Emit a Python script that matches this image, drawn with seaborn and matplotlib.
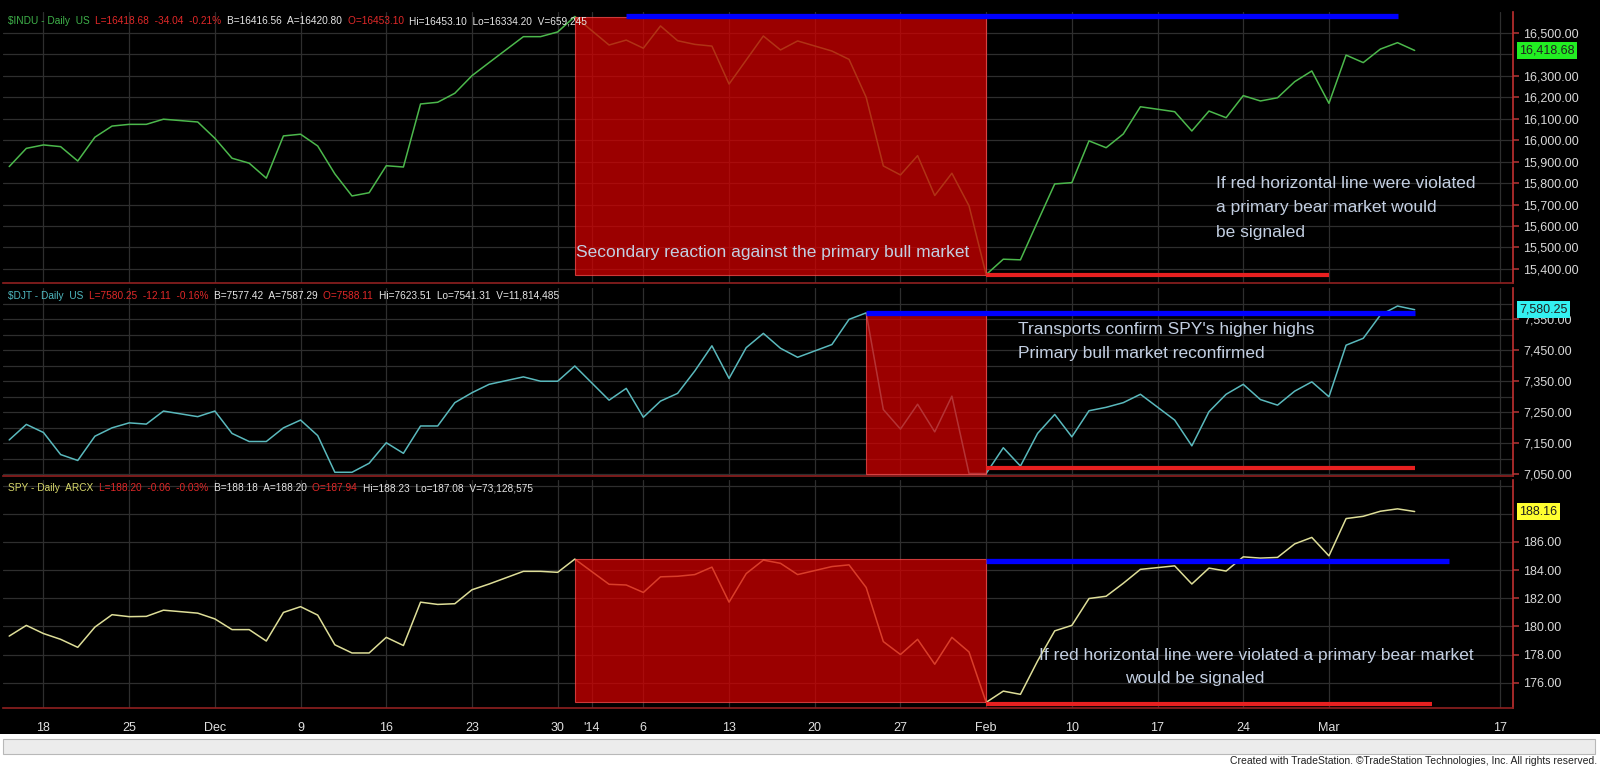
import numpy as np
import pandas as pd
import matplotlib
matplotlib.use("Agg")
import matplotlib.pyplot as plt
import matplotlib.transforms as mtrans
from matplotlib.patches import Rectangle
import seaborn as sns

# ---------------- data ----------------
# one slot per weekday from Nov 14 2013; market holidays are empty (None)
indu = [15877, 15962, 15978, 15970, 15903, 16014, 16066, 16074, 16074, 16098,
        None, 16085, 16009, 15916, 15893, 15823, 16020, 16028, 15973, 15843,
        15740, 15755, 15881, 15875, 16169, 16177, 16219, 16301, 16362, None,
        16483, 16483, 16505, 16577, None, 16444, 16467, 16429, 16533, 16464,
        16447, 16439, 16262, 16374, 16486, 16421, 16463, None, 16416, 16377,
        16200, 15880, 15838, 15928, 15742, 15846, 15694, 15373, 15445, 15442,
        15620, 15796, 15802, 15997, 15965, 16029, 16156, None, 16133, 16043,
        16136, 16105, 16208, 16183, 16198, 16273, 16323, 16172, 16397, 16362,
        16425, 16455, 16418.68]
djt = [7161, 7211, 7185, 7114, 7095, 7173, 7200, 7216, 7212, 7254,
       None, 7236, 7254, 7182, 7156, 7156, 7200, 7225, 7175, 7057,
       7057, 7086, 7152, 7118, 7206, 7206, 7281, 7313, 7340, None,
       7364, 7350, 7350, 7399, None, 7289, 7327, 7234, 7286, 7311,
       7383, 7464, 7359, 7458, 7504, 7456, 7427, None, 7468, 7549,
       7570, 7259, 7196, 7276, 7187, 7302, 7053, 7053, 7136, 7077,
       7182, 7243, 7171, 7255, 7266, 7281, 7308, None, 7225, 7142,
       7252, 7308, 7340, 7291, 7273, 7318, 7348, 7300, 7466, 7488,
       7563, 7592, 7580.25]
spy = [179.31, 180.07, 179.49, 179.08, 178.51, 179.95, 180.83, 180.69, 180.71, 181.15,
       None, 180.94, 180.53, 179.77, 179.77, 178.96, 180.99, 181.40, 180.80, 178.69,
       178.11, 178.11, 179.22, 178.64, 181.72, 181.56, 181.61, 182.60, 183.01, None,
       183.91, 183.91, 183.84, 184.78, None, 182.99, 182.94, 182.41, 183.52, 183.56,
       183.68, 184.21, 181.72, 183.75, 184.71, 184.48, 183.68, None, 184.25, 184.37,
       182.76, 178.92, 178.00, 179.08, 177.31, 179.22, 178.18, 174.60, 175.40, 175.17,
       177.54, 179.68, 180.07, 181.98, 182.14, 183.06, 184.05, None, 184.30, 183.01,
       184.14, 183.93, 184.94, 184.85, 184.90, 185.86, 186.32, 185.01, 187.66, 187.82,
       188.18, 188.35, 188.16]

tick_slots = [2, 7, 12, 17, 22, 27, 32, 34, 37, 42, 47, 52, 57, 62, 67, 72, 77, 87]
tick_labels = ["18", "25", "Dec", "9", "16", "23", "30", "'14", "6", "13", "20", "27",
               "Feb", "10", "17", "24", "Mar", "17"]

indu_ticks = [15400, 15500, 15600, 15700, 15800, 15900, 16000, 16100, 16200, 16300, 16500]
djt_ticks = [7050, 7150, 7250, 7350, 7450, 7550]
spy_ticks = [176, 178, 180, 182, 184, 186]

# box spans (slot of peak, slot of trough) and line extents
indu_box = (33, 57); indu_blue = (36, 81, 16580); indu_red = (57, 77, 15373)
djt_box = (50, 57);  djt_blue = (50, 82, 7570);   djt_red = (57, 82, 7072)
spy_box = (33, 57);  spy_blue = (57, 84, 184.67); spy_red = (57, 83, 174.5)

headers = [
    [("$INDU - Daily  US  ", "#3fb24a"), ("L=16418.68  -34.04  -0.21%  ", "#e02828"),
     ("B=16416.56  A=16420.80  ", "#e6e6e6"), ("O=16453.10  ", "#e02828"),
     ("Hi=16453.10  Lo=16334.20  V=659,245", "#e6e6e6")],
    [("$DJT - Daily  US  ", "#4fb8c0"), ("L=7580.25  -12.11  -0.16%  ", "#e02828"),
     ("B=7577.42  A=7587.29  ", "#e6e6e6"), ("O=7588.11  ", "#e02828"),
     ("Hi=7623.51  Lo=7541.31  V=11,814,485", "#e6e6e6")],
    [("SPY - Daily  ARCX  ", "#d8d86a"), ("L=188.20  -0.06  -0.03%  ", "#e02828"),
     ("B=188.18  A=188.20  ", "#e6e6e6"), ("O=187.94  ", "#e02828"),
     ("Hi=188.23  Lo=187.08  V=73,128,575", "#e6e6e6")],
]

# ---------------- style ----------------
FONT = ["Liberation Sans", "DejaVu Sans"]
sns.set_theme(style="dark", rc={"axes.facecolor": "black", "figure.facecolor": "black",
                                "font.family": FONT})

W, H = 1600, 767
fig = plt.figure(figsize=(W / 100, H / 100), dpi=100, facecolor="black")

def add_ax(top, bottom):
    return fig.add_axes([0.002, 1 - bottom / H, 1510 / W, (bottom - top) / H])

ax1 = add_ax(12, 283)
ax2 = add_ax(288, 476)
ax3 = add_ax(480, 708)

note_color = "#c3cfe2"
panels = [
    (ax1, indu, "#4cb84c", (15334, 16598), indu_ticks, 100, "{:,.2f}",
     indu_box, indu_blue, indu_red, "16,418.68", "#22ee22"),
    (ax2, djt, "#5ab9bd", (7045, 7650), djt_ticks, 50, "{:,.2f}",
     djt_box, djt_blue, djt_red, "7,580.25", "#33f0f0"),
    (ax3, spy, "#dede98", (174.2, 190.4), spy_ticks, 2, "{:.2f}",
     spy_box, spy_blue, spy_red, "188.16", "#ffff30"),
]

for i, (ax, vals, col, ylim, yt, gstep, fmt, box, blue, red, last, lastc) in enumerate(panels):
    df = pd.DataFrame({"slot": np.arange(len(vals)), "v": pd.to_numeric(pd.Series(vals))}).dropna()
    ax.set_facecolor("black")
    ax.set_xlim(-0.35, 87.75)
    ax.set_ylim(*ylim)
    for g in np.arange(np.ceil(ylim[0] / gstep) * gstep, ylim[1], gstep):
        ax.axhline(g, color="#2e2e2e", lw=0.9, zorder=0)
    for s in tick_slots:
        ax.axvline(s, color="#2e2e2e", lw=0.9, zorder=0)
    sns.lineplot(data=df, x="slot", y="v", ax=ax, color=col, lw=1.1, zorder=2)
    seg = df[(df.slot >= box[0]) & (df.slot <= box[1])]
    lo, hi = seg.v.min(), seg.v.max()
    ax.add_patch(Rectangle((box[0], lo), box[1] - box[0], hi - lo, facecolor="#d80000",
                           alpha=0.72, edgecolor="#ff5050", lw=0.8, zorder=3))
    ax.plot([blue[0], blue[1]], [blue[2], blue[2]], color="#0000ff", lw=3.8, zorder=4, solid_capstyle="butt")
    ax.plot([red[0], red[1]], [red[2], red[2]], color="#e82020", lw=3.0, zorder=4, solid_capstyle="butt")
    ax.yaxis.tick_right()
    ax.set_yticks(yt)
    ax.set_yticklabels([fmt.format(v) for v in yt], color="#d8d8d8", fontsize=9)
    ax.tick_params(axis="y", length=4, color="#a03030", pad=3)
    ax.set_xlabel(""); ax.set_ylabel("")
    for sp in ["top", "left"]:
        ax.spines[sp].set_visible(False)
    ax.spines["right"].set_color("#c03030"); ax.spines["right"].set_linewidth(1.2)
    ax.spines["bottom"].set_color("#902020"); ax.spines["bottom"].set_linewidth(1.2)
    if i < 2:
        ax.set_xticks([])
    else:
        ax.set_xticks(tick_slots)
        ax.set_xticklabels(tick_labels, color="#e0e0e0", fontsize=9)
        ax.tick_params(axis="x", length=4, color="#a03030", pad=6)
    tr = mtrans.blended_transform_factory(ax.transAxes, ax.transData)
    ax.text(1.004, float(df.v.iloc[-1]), last, transform=tr, va="center", ha="left",
            fontsize=9, color="#202020", zorder=10,
            bbox=dict(facecolor=lastc, edgecolor="none", pad=1.6))
    prev = ax.text(0.003, 0.985, headers[i][0][0], transform=ax.transAxes, va="top", ha="left",
                   color=headers[i][0][1], fontsize=7.3)
    for txt, c in headers[i][1:]:
        prev = ax.annotate(txt, xy=(1, 0), xycoords=prev, va="bottom", ha="left",
                           color=c, fontsize=7.3)

kw = dict(color=note_color, fontsize=12.5, zorder=6, va="center")
ax1.text((769 - 6) / 17.14, 15475, "Secondary reaction against the primary bull market",
         ha="center", **kw)
for k, line in enumerate(["If red horizontal line were violated",
                          "a primary bear market would", "be signaled"]):
    ax1.text((1213 - 6) / 17.14, 15800 - k * 115, line, ha="left", **kw)
ax2.text((1015 - 6) / 17.14, 7518, "Transports confirm SPY's higher highs", ha="left", **kw)
ax2.text((1015 - 6) / 17.14, 7438, "Primary bull market reconfirmed", ha="left", **kw)
ax3.text((1036 - 6) / 17.14, 177.9, "If red horizontal line were violated a primary bear market",
         ha="left", **kw)
ax3.text((1122 - 6) / 17.14, 176.3, "would be signaled", ha="left", **kw)

fig.patches.append(Rectangle((0, 0), 1, 33 / H, transform=fig.transFigure,
                             facecolor="white", edgecolor="none", zorder=-1))
fig.patches.append(Rectangle((0.002, 13 / H), 0.995, 15 / H, transform=fig.transFigure,
                             facecolor="#ececec", edgecolor="#b8b8b8", lw=0.8, zorder=0))
fig.text(0.998, 1 / H, "Created with TradeStation. \u00a9TradeStation Technologies, Inc. All rights reserved.",
         ha="right", va="bottom", fontsize=7.5, color="#202020")

fig.savefig("out.png", dpi=100, facecolor="black")
